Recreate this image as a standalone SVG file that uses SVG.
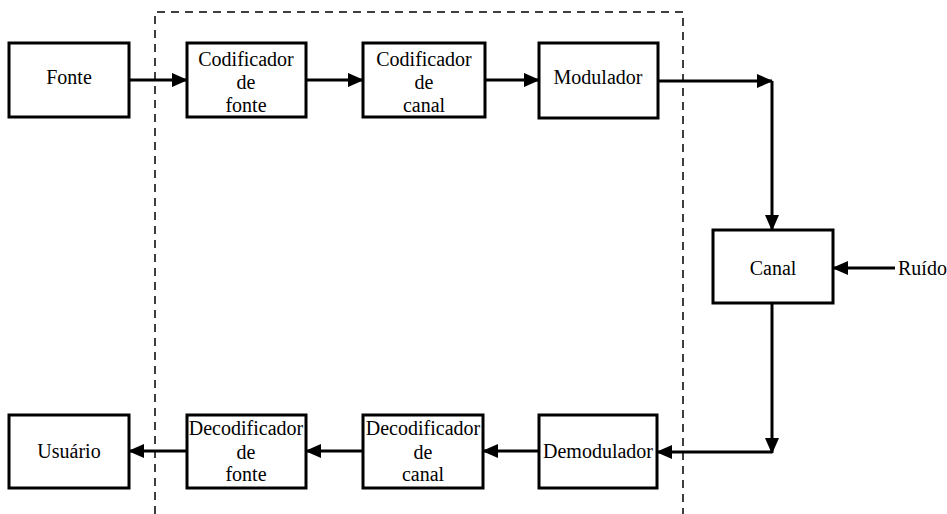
<svg xmlns="http://www.w3.org/2000/svg" width="947" height="514" viewBox="0 0 947 514">
<style>
.box{fill:#fff;stroke:#000;stroke-width:3}
.t{font-family:'Liberation Serif','Times New Roman','DejaVu Serif',serif;font-size:20px;fill:#000;text-anchor:middle}
.c{fill:none;stroke:#000;stroke-width:3}
.dash{fill:none;stroke:#000;stroke-width:1.5;stroke-dasharray:8,6}
</style>
<defs>
<marker id="ah" markerUnits="userSpaceOnUse" markerWidth="16" markerHeight="14" refX="15" refY="7" orient="auto">
<path d="M0,0 L16,7 L0,14 Z" fill="#000"/>
</marker>
</defs>
<rect width="947" height="514" fill="#fff"/>
<path class="dash" d="M155,514 V12 H683 V514"/>
<g id="connectors">
<line class="c" x1="129" y1="80" x2="187" y2="80" marker-end="url(#ah)"/>
<line class="c" x1="306" y1="80" x2="363" y2="80" marker-end="url(#ah)"/>
<line class="c" x1="485" y1="80" x2="539" y2="80" marker-end="url(#ah)"/>
<line class="c" x1="658" y1="81" x2="772" y2="81" marker-end="url(#ah)"/>
<line class="c" x1="772" y1="81" x2="772" y2="230" marker-end="url(#ah)"/>
<line class="c" x1="895" y1="268" x2="833" y2="268" marker-end="url(#ah)"/>
<line class="c" x1="772" y1="303" x2="772" y2="453" marker-end="url(#ah)"/>
<line class="c" x1="772" y1="452" x2="657" y2="452" marker-end="url(#ah)"/>
<line class="c" x1="539" y1="451" x2="483" y2="451" marker-end="url(#ah)"/>
<line class="c" x1="363" y1="451" x2="306" y2="451" marker-end="url(#ah)"/>
<line class="c" x1="187" y1="451" x2="129" y2="451" marker-end="url(#ah)"/>
</g>
<g id="fonte"><rect class="box" x="9" y="43" width="120" height="74"/><text class="t" x="69" y="84">Fonte</text></g>
<g id="codfonte"><rect class="box" x="187" y="43" width="119" height="74"/><text class="t" x="246" y="66">Codificador</text><text class="t" x="246" y="89">de</text><text class="t" x="246" y="112">fonte</text></g>
<g id="codcanal"><rect class="box" x="363" y="43" width="122" height="74"/><text class="t" x="424" y="66">Codificador</text><text class="t" x="424" y="89">de</text><text class="t" x="424" y="112">canal</text></g>
<g id="modulador"><rect class="box" x="539" y="43" width="119" height="75"/><text class="t" x="598" y="84">Modulador</text></g>
<g id="canal"><rect class="box" x="713" y="230" width="120" height="73"/><text class="t" x="773" y="275">Canal</text></g>
<g id="ruido"><text class="t" x="898" y="275" style="text-anchor:start">Ruído</text></g>
<g id="demodulador"><rect class="box" x="539" y="415" width="118" height="73"/><text class="t" x="598" y="458">Demodulador</text></g>
<g id="decodcanal"><rect class="box" x="363" y="415" width="120" height="73"/><text class="t" x="423" y="435">Decodificador</text><text class="t" x="423" y="459">de</text><text class="t" x="423" y="481">canal</text></g>
<g id="decodfonte"><rect class="box" x="187" y="415" width="119" height="73"/><text class="t" x="246" y="435">Decodificador</text><text class="t" x="246" y="459">de</text><text class="t" x="246" y="481">fonte</text></g>
<g id="usuario"><rect class="box" x="9" y="415" width="120" height="73"/><text class="t" x="69" y="458">Usuário</text></g>
</svg>
